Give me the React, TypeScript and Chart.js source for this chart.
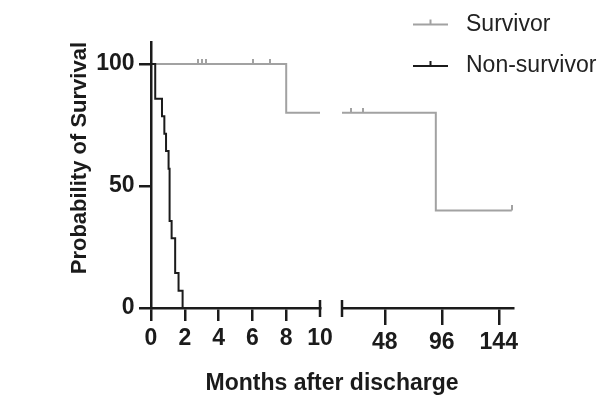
import React, { useEffect, useRef } from 'react';
import { Chart, registerables } from 'chart.js';

Chart.register(...registerables);

// ---------- data ----------
const seriesNames = ['Survivor', 'Non-survivor'];
const survivorTimes = [0, 8, 91, 155];
const survivorProb = [100, 80, 40, 40];
const survivorCensorTimes = [2.8, 3.0, 3.25, 6.05, 7.05, 19.5, 29.5, 155];
const nonSurvivorTimes = [0, 0.25, 0.65, 0.79, 0.89, 1.04, 1.1, 1.22, 1.43, 1.63, 1.87];
const nonSurvivorProb = [100, 85.7, 78.6, 71.4, 64.3, 57.1, 35.7, 28.6, 14.3, 7.1, 0];
const xLeftRange = [0, 10];
const xLeftTicks = [0, 2, 4, 6, 8, 10];
const xRightRange = [12, 156];
const xRightTicks = [48, 96, 144];
const yRange = [0, 109];
const yTicks = [0, 50, 100];
const xTitle = 'Months after discharge';
const yTitle = 'Probability of Survival';

// ---------- style ----------
const FONT = '"Liberation Sans", Arial, Helvetica, sans-serif';
const AXIS = '#1b1b1b';
const GRAY = '#a2a2a2';
const BLACK = '#1b1b1b';
const AXIS_W = 2.5;
const SEG_LEFT_WIDTH = 169;
const SEG_GAP = 22;

// ---------- helpers (Kaplan-Meier step function) ----------
function survivalAt(times: number[], probs: number[], t: number) {
  let s = probs[0];
  for (let i = 0; i < times.length; i++) if (times[i] <= t) s = probs[i];
  return s;
}
function segment(times: number[], probs: number[], lo: number, hi: number) {
  const pts: { x: number; y: number }[] = [];
  if (times[times.length - 1] < lo) return pts;
  pts.push({ x: lo, y: survivalAt(times, probs, lo) });
  for (let i = 0; i < times.length; i++) {
    if (times[i] > lo && times[i] <= hi) pts.push({ x: times[i], y: probs[i] });
  }
  if (times[times.length - 1] > hi) pts.push({ x: hi, y: survivalAt(times, probs, hi) });
  return pts;
}
function censorPoints(lo: number, hi: number) {
  return survivorCensorTimes
    .filter((t) => t >= lo && t <= hi)
    .map((t) => ({ x: t, y: survivalAt(survivorTimes, survivorProb, t) }));
}
function makeCensorMark(color: string) {
  const c = document.createElement('canvas');
  c.width = 2;
  c.height = 10;
  const g = c.getContext('2d')!;
  g.fillStyle = color;
  g.fillRect(0, 0, 2, 5);
  return c;
}

const brokenAxisPlugin = {
  id: 'brokenAxis',
  afterLayout(chart: any) {
    const area = chart.chartArea;
    const xl = chart.scales.x;
    const xr = chart.scales.x2;
    xl.left = area.left;
    xl.right = area.left + SEG_LEFT_WIDTH;
    xl.width = SEG_LEFT_WIDTH;
    xr.left = xl.right + SEG_GAP;
    xr.right = area.right;
    xr.width = xr.right - xr.left;
    xr.top = xl.top;
    xr.bottom = xl.bottom;
    xr.height = xl.height;
    xl.configure();
    xr.configure();
  },
  afterDraw(chart: any) {
    const ctx = chart.ctx;
    const xl = chart.scales.x;
    const xr = chart.scales.x2;
    const yAxis = xl.top;
    ctx.save();
    // break caps
    ctx.strokeStyle = AXIS;
    ctx.lineWidth = AXIS_W;
    [xl.getPixelForValue(xLeftRange[1]), xr.getPixelForValue(xRightRange[0])].forEach((px: number) => {
      ctx.beginPath();
      ctx.moveTo(px, yAxis - 8);
      ctx.lineTo(px, yAxis + 9);
      ctx.stroke();
    });
    // legend
    const items = [
      { label: seriesNames[0], color: GRAY },
      { label: seriesNames[1], color: BLACK },
    ];
    const lx = 413;
    items.forEach((it, i) => {
      const y = 24.5 + i * 41.5;
      ctx.strokeStyle = it.color;
      ctx.lineWidth = 2;
      ctx.beginPath();
      ctx.moveTo(lx, y);
      ctx.lineTo(lx + 35, y);
      ctx.moveTo(lx + 17.5, y);
      ctx.lineTo(lx + 17.5, y - 5);
      ctx.stroke();
      ctx.fillStyle = '#222';
      ctx.font = `23px ${FONT}`;
      ctx.textBaseline = 'middle';
      ctx.textAlign = 'left';
      ctx.fillText(it.label, lx + 53, y);
    });
    ctx.restore();
  },
};

export default function App() {
  const ref = useRef<HTMLCanvasElement>(null);
  useEffect(() => {
    if (!ref.current) return;
    const censorGray = makeCensorMark(GRAY);
    const tickFont = { family: FONT, size: 23, weight: 'bold' as const };
    const common = (tickLen: number) => ({
      drawOnChartArea: false,
      drawTicks: true,
      tickLength: tickLen,
      lineWidth: AXIS_W,
      tickWidth: AXIS_W,
      color: AXIS,
    });
    const chart = new Chart(ref.current, {
      type: 'line',
      data: {
        datasets: [
          {
            label: seriesNames[1],
            data: segment(nonSurvivorTimes, nonSurvivorProb, xLeftRange[0], xLeftRange[1]),
            xAxisID: 'x',
            borderColor: BLACK,
            borderWidth: 2,
            stepped: 'before',
            pointRadius: 0,
            fill: false,
            order: 0,
          },
          {
            label: seriesNames[0],
            data: segment(survivorTimes, survivorProb, xLeftRange[0], xLeftRange[1]),
            xAxisID: 'x',
            borderColor: GRAY,
            borderWidth: 2,
            stepped: 'before',
            pointRadius: 0,
            fill: false,
            order: 1,
          },
          {
            label: seriesNames[0],
            data: segment(survivorTimes, survivorProb, xRightRange[0], xRightRange[1]),
            xAxisID: 'x2',
            borderColor: GRAY,
            borderWidth: 2,
            stepped: 'before',
            pointRadius: 0,
            fill: false,
            order: 1,
          },
          {
            label: seriesNames[0] + ' censored',
            data: censorPoints(xLeftRange[0], xLeftRange[1]),
            xAxisID: 'x',
            showLine: false,
            pointStyle: censorGray,
            pointRadius: 3,
            order: 2,
          },
          {
            label: seriesNames[0] + ' censored',
            data: censorPoints(xRightRange[0], xRightRange[1]),
            xAxisID: 'x2',
            showLine: false,
            pointStyle: censorGray,
            pointRadius: 3,
            order: 2,
          },
        ] as any,
      },
      options: {
        animation: false,
        responsive: false,
        events: [],
        layout: { padding: { top: 42, right: 91, bottom: 0, left: 0 } },
        plugins: {
          legend: { display: false },
          tooltip: { enabled: false },
          title: {
            display: true,
            position: 'bottom',
            fullSize: false,
            text: xTitle,
            color: AXIS,
            font: { family: FONT, size: 23, weight: 'bold', lineHeight: 1 },
            padding: 0,
          },
        },
        scales: {
          x: {
            type: 'linear',
            position: 'bottom',
            min: xLeftRange[0],
            max: xLeftRange[1],
            afterBuildTicks: (s: any) => {
              s.ticks = xLeftTicks.map((v) => ({ value: v }));
            },
            afterFit: (s: any) => {
              s.height = 64;
            },
            ticks: { font: tickFont, color: AXIS, padding: 4, autoSkip: false, maxRotation: 0 },
            grid: {
              ...common(13),
              tickColor: (c: any) =>
                c.tick && c.tick.value === xLeftRange[1] ? 'rgba(0,0,0,0)' : AXIS,
            },
            border: { display: true, color: AXIS, width: AXIS_W },
          },
          x2: {
            type: 'linear',
            position: 'bottom',
            min: xRightRange[0],
            max: xRightRange[1],
            afterBuildTicks: (s: any) => {
              s.ticks = xRightTicks.map((v) => ({ value: v }));
            },
            afterFit: (s: any) => {
              s.height = 0;
            },
            ticks: { font: tickFont, color: AXIS, padding: 4, autoSkip: false, maxRotation: 0 },
            grid: { ...common(17), tickColor: AXIS },
            border: { display: true, color: AXIS, width: AXIS_W },
          },
          y: {
            type: 'linear',
            position: 'left',
            min: yRange[0],
            max: yRange[1],
            afterBuildTicks: (s: any) => {
              s.ticks = yTicks.map((v) => ({ value: v }));
            },
            afterFit: (s: any) => {
              s.width = 151;
            },
            ticks: { font: tickFont, color: AXIS, padding: 4.5 },
            grid: { ...common(12), tickColor: AXIS },
            border: { display: true, color: AXIS, width: AXIS_W },
            title: {
              display: true,
              text: yTitle,
              align: 'end',
              color: AXIS,
              font: { family: FONT, size: 22, weight: 'bold', lineHeight: 1 },
              padding: { top: 68.5, bottom: 0 },
            },
          },
        },
      } as any,
      plugins: [brokenAxisPlugin],
    });
    return () => chart.destroy();
  }, []);
  return (
    <div style={{ position: 'absolute', left: 0, top: 0, width: 604, height: 395 }}>
      <canvas ref={ref} width={604} height={395} style={{ display: 'block' }} />
    </div>
  );
}
